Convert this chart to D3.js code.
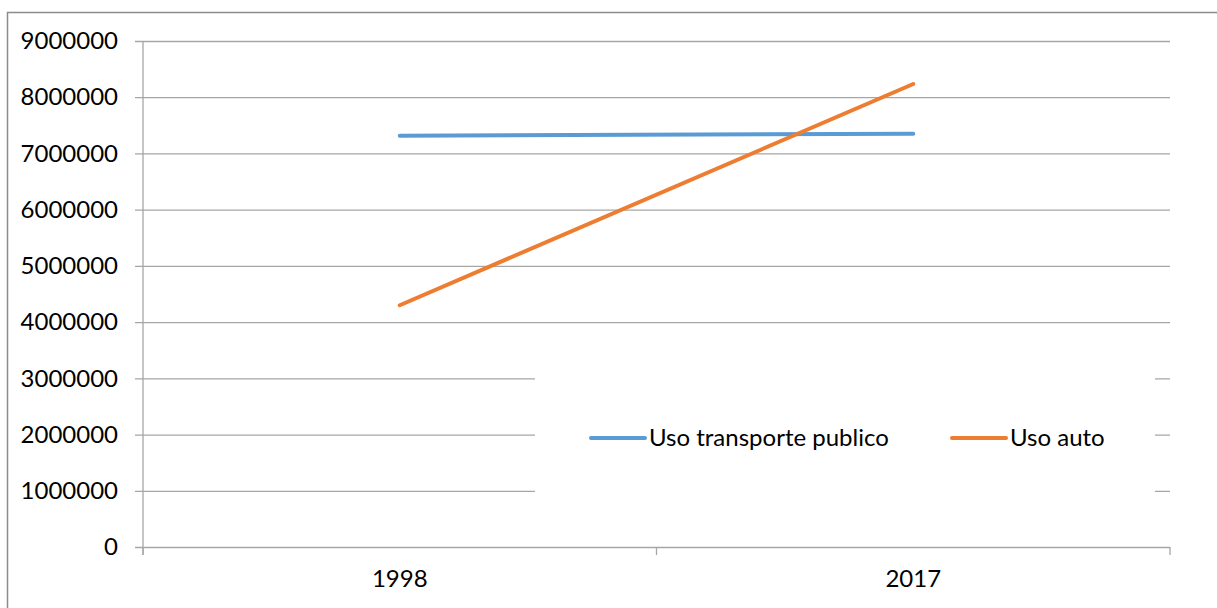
<!DOCTYPE html>
<html>
<head>
<meta charset="utf-8">
<script src="https://cdn.jsdelivr.net/npm/d3@7"></script>
<style>
  body { margin: 0; background: #fff; }
  svg { display: block; font-family: Lato, "Open Sans", sans-serif; }
  .tick text { fill: #000; }
</style>
</head>
<body>
<svg></svg>
<script>
// data
var years = ['1998', '2017'];
var publico = [7315000, 7350000];
var auto = [4300000, 8235000];
var seriesNames = ['Uso transporte publico', 'Uso auto'];
var seriesColors = ['#5b9bd5', '#ed7d31'];
var yTicks = [0, 1000000, 2000000, 3000000, 4000000, 5000000, 6000000, 7000000, 8000000, 9000000];

document.addEventListener('DOMContentLoaded', () => {
    var width = 1217;
    var height = 608;
    var left = 143, right = 1170, top = 41, bottom = 547;
    var grey = '#a6a6a6';
    var fontSize = 24;

    var svg = d3.select('svg')
        .attr('width', width)
        .attr('height', height);

    // chart border
    svg.append('rect')
        .attr('x', 7.5).attr('y', 12.5)
        .attr('width', 1240).attr('height', 620)
        .attr('fill', '#fff')
        .attr('stroke', '#8c8c8c')
        .attr('stroke-width', 1.5);

    var xScale = d3.scaleBand()
        .domain(years)
        .range([left, right])
        .padding(0);

    var yScale = d3.scaleLinear()
        .domain([0, 9000000])
        .range([bottom, top]);

    // y axis with gridlines
    var yAxis = d3.axisLeft(yScale)
        .tickValues(yTicks)
        .tickFormat(d3.format('d'))
        .tickSize(0)
        .tickPadding(25);

    var gy = svg.append('g')
        .attr('transform', 'translate(' + left + ',0)')
        .call(yAxis);
    gy.select('.domain').remove();
    gy.selectAll('.tick text').attr('font-size', fontSize).attr('font-family', 'Lato');
    gy.selectAll('.tick').append('line')
        .attr('x1', -8).attr('x2', right - left)
        .attr('stroke', grey).attr('stroke-width', 1.3);

    // y axis line
    svg.append('line')
        .attr('x1', left).attr('x2', left)
        .attr('y1', top).attr('y2', bottom + 8)
        .attr('stroke', grey).attr('stroke-width', 1.3);

    // x axis
    var xAxis = d3.axisBottom(xScale)
        .tickSize(0)
        .tickPadding(23);
    var gx = svg.append('g')
        .attr('transform', 'translate(0,' + bottom + ')')
        .call(xAxis);
    gx.select('.domain').remove();
    gx.selectAll('.tick text').attr('font-size', fontSize).attr('font-family', 'Lato');

    // category boundary ticks
    var bounds = years.map(d => xScale(d)).concat([xScale(years[years.length - 1]) + xScale.bandwidth()]);
    svg.append('g').selectAll('line')
        .data(bounds)
        .enter()
        .append('line')
            .attr('x1', d => d).attr('x2', d => d)
            .attr('y1', bottom).attr('y2', bottom + 8)
            .attr('stroke', grey).attr('stroke-width', 1.3);

    // legend box (covers gridlines)
    var legend = svg.append('g');
    legend.append('rect')
        .attr('x', 535).attr('y', 345)
        .attr('width', 620).attr('height', 180)
        .attr('fill', '#fff');

    var legendX = [591, 952];
    seriesNames.forEach((name, i) => {
        legend.append('line')
            .attr('x1', legendX[i]).attr('x2', legendX[i] + 54)
            .attr('y1', 438).attr('y2', 438)
            .attr('stroke', seriesColors[i])
            .attr('stroke-width', 4)
            .attr('stroke-linecap', 'round');
        legend.append('text')
            .text(name)
            .attr('x', legendX[i] + 58)
            .attr('y', 438)
            .attr('dy', '0.35em')
            .attr('font-size', fontSize)
            .attr('fill', '#000');
    });

    // lines
    var line = d3.line()
        .x((d, i) => xScale(years[i]) + xScale.bandwidth() / 2)
        .y(d => yScale(d));

    [publico, auto].forEach((s, i) => {
        svg.append('path')
            .datum(s)
            .attr('d', line)
            .attr('fill', 'none')
            .attr('stroke', seriesColors[i])
            .attr('stroke-width', 4)
            .attr('stroke-linecap', 'round');
    });
})
</script>
</body>
</html>
